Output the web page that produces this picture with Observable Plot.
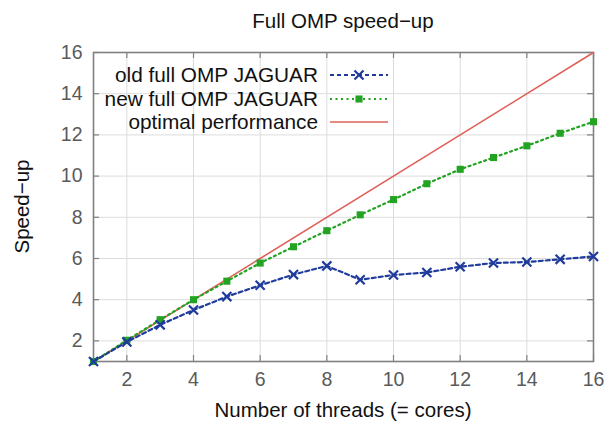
<!DOCTYPE html>
<html>
<head>
<meta charset="utf-8">
<script src="https://cdn.jsdelivr.net/npm/d3@7"></script>
<script src="https://cdn.jsdelivr.net/npm/@observablehq/plot@0.6"></script>
<style>
  body { margin: 0; background: #fff; }
  #chart svg { font-family: "Liberation Sans", Arial, sans-serif; }
</style>
</head>
<body>
<div id="chart"></div>
<script>
const threads = [1, 2, 3, 4, 5, 6, 7, 8, 9, 10, 11, 12, 13, 14, 15, 16];
const oldSpeedup = [1, 1.95, 2.78, 3.5, 4.15, 4.7, 5.22, 5.64, 4.97, 5.2, 5.32, 5.6, 5.78, 5.83, 5.96, 6.1];
const newSpeedup = [1, 2.03, 3.03, 4.0, 4.9, 5.78, 6.57, 7.35, 8.12, 8.86, 9.63, 10.33, 10.9, 11.47, 12.08, 12.64];
const optimal = [1, 16];
const xTicks = [2, 4, 6, 8, 10, 12, 14, 16];
const yTicks = [2, 4, 6, 8, 10, 12, 14, 16];
const seriesNames = ["old full OMP JAGUAR", "new full OMP JAGUAR", "optimal performance"];
const seriesColors = ["#1f3b9c", "#22a322", "#e0605a"];
const titleText = "Full OMP speed\u2212up";
const xLabel = "Number of threads (= cores)";
const yLabel = "Speed\u2212up";

const oldData = threads.map((t, i) => ({t, v: oldSpeedup[i]}));
const newData = threads.map((t, i) => ({t, v: newSpeedup[i]}));
const optData = optimal.map(v => ({t: v, v}));

const W = 608, H = 427;
const mL = 93, mR = 15, mT = 52, mB = 66;
const innerW = W - mL - mR, innerH = H - mT - mB;
const tk = 6;

const plot = Plot.plot({
  width: W, height: H,
  marginLeft: mL, marginRight: mR, marginTop: mT, marginBottom: mB,
  style: {fontFamily: "Liberation Sans, Arial, sans-serif", background: "#fff"},
  x: {domain: [1, 16], ticks: xTicks},
  y: {domain: [1, 16], ticks: yTicks},
  marks: [
    Plot.gridX(xTicks, {stroke: "#dcdcdc", strokeOpacity: 1, strokeWidth: 1}),
    Plot.gridY(yTicks, {stroke: "#dcdcdc", strokeOpacity: 1, strokeWidth: 1}),
    Plot.tickX(xTicks, {x: d => d, insetTop: innerH - tk, stroke: "#808080", strokeWidth: 1.2}),
    Plot.tickX(xTicks, {x: d => d, insetBottom: innerH - tk, stroke: "#808080", strokeWidth: 1.2}),
    Plot.tickY(yTicks, {y: d => d, insetRight: innerW - tk, stroke: "#808080", strokeWidth: 1.2}),
    Plot.tickY(yTicks, {y: d => d, insetLeft: innerW - tk, stroke: "#808080", strokeWidth: 1.2}),
    Plot.axisX(xTicks, {tickSize: 0, tickPadding: 11, fontSize: 19.5, color: "#5a5a5a", label: null}),
    Plot.axisY(yTicks, {tickSize: 0, tickPadding: 11, fontSize: 19.5, color: "#5a5a5a", label: null}),
    Plot.frame({stroke: "#808080", strokeWidth: 1.6}),
    Plot.line(optData, {x: "t", y: "v", stroke: seriesColors[2], strokeWidth: 1.6}),
    Plot.line(newData, {x: "t", y: "v", stroke: seriesColors[1], strokeWidth: 2.2, strokeDasharray: "2,3.5"}),
    Plot.dot(newData, {x: "t", y: "v", symbol: "square", r: 4, fill: seriesColors[1]}),
    Plot.line(oldData, {x: "t", y: "v", stroke: seriesColors[0], strokeWidth: 2.2, strokeDasharray: "4,3"}),
    Plot.dot(oldData, {x: "t", y: "v", symbol: "times", r: 4.2, stroke: seriesColors[0], strokeWidth: 2.2})
  ]
});

const svg = d3.select(plot);
svg.append("text").attr("x", mL + innerW / 2).attr("y", 28)
  .attr("text-anchor", "middle").attr("font-size", 20.5).attr("fill", "#111").text(titleText);
svg.append("text").attr("x", mL + innerW / 2).attr("y", 417)
  .attr("text-anchor", "middle").attr("font-size", 20.5).attr("fill", "#111").text(xLabel);
svg.append("text").attr("transform", `translate(29,${mT + innerH / 2}) rotate(-90)`)
  .attr("text-anchor", "middle").attr("font-size", 20.5).attr("fill", "#111").text(yLabel);

// legend
const legY = [75, 99, 122];
const lg = svg.append("g");
seriesNames.forEach((name, i) => {
  lg.append("text").attr("x", 318).attr("y", legY[i]).attr("dy", "0.35em")
    .attr("text-anchor", "end").attr("font-size", 20.8).attr("fill", "#111").text(name);
  const ln = lg.append("line").attr("x1", 330).attr("x2", 388).attr("y1", legY[i]).attr("y2", legY[i])
    .attr("stroke", seriesColors[i]);
  if (i === 0) ln.attr("stroke-width", 2.2).attr("stroke-dasharray", "4,3");
  if (i === 1) ln.attr("stroke-width", 2.2).attr("stroke-dasharray", "2,3.5");
  if (i === 2) ln.attr("stroke-width", 1.6);
});
lg.append("path").attr("d", d3.symbol(d3.symbolTimes, Math.PI * 4.2 * 4.2)())
  .attr("transform", `translate(359,${legY[0]})`).attr("stroke", seriesColors[0]).attr("stroke-width", 2.2).attr("fill", "none");
lg.append("path").attr("d", d3.symbol(d3.symbolSquare, Math.PI * 4 * 4)())
  .attr("transform", `translate(359,${legY[1]})`).attr("fill", seriesColors[1]);

document.getElementById("chart").appendChild(plot);
</script>
</body>
</html>
